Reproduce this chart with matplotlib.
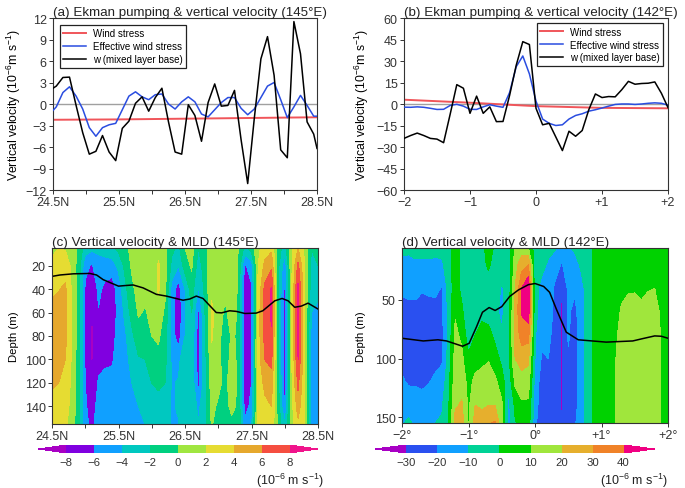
import matplotlib
matplotlib.use("Agg")
import matplotlib.pyplot as plt
import numpy as np

plt.rcParams.update({
    "font.family": ["Liberation Sans", "DejaVu Sans"],
    "font.size": 8.5,
    "mathtext.default": "regular",
    "axes.linewidth": 0.8,
    "axes.edgecolor": "#333333",
    "xtick.color": "#333333",
    "ytick.color": "#333333",
})

# line panel (a): latitudes sit mid-cell, with both ends added
lat_a = [24.5, 24.55, 24.65, 24.75, 24.85, 24.95, 25.05, 25.15, 25.25, 25.35, 25.45, 25.55, 25.65, 25.75,
         25.85, 25.95, 26.05, 26.15, 26.25, 26.35, 26.45, 26.55, 26.65, 26.75, 26.85, 26.95, 27.05, 27.15,
         27.25, 27.35, 27.45, 27.55, 27.65, 27.75, 27.85, 27.95, 28.05, 28.15, 28.25, 28.35, 28.45, 28.5]
w_a = [2.2, 2.5, 3.7, 3.75, -0.2, -4.0, -7, -6.6, -4.4, -6.7, -7.9, -3.4, -2.4, 0.1, 1, -1, 0.9, 2.2, -2.5, -6.7,
       -7, -0.1, -1.6, -5.2, 0.2, 2.8, -0.3, -0.2, 1.9, -5, -11.1, -2, 6.3, 9.4, 4, -6.4, -7.5, 11.5, 7, -2.5,
       -4.2, -6.2]
eff_a = [-0.9, -0.4, 1.6, 2.4, 1.1, -0.7, -3.3, -4.5, -3.3, -2.9, -2.7, -0.8, 1.1, 1.7, 1, 0.6, 1.3, 1.4, 0, -0.7,
         0.3, 1, 0.3, -1.4, -1.8, -0.8, 0.2, 0.9, 0.9, -0.6, -1.5, -0.7, 0.9, 2.5, 3, 0.6, -1.9, -0.4, 1.2, -0.2,
         -1.7, -1.7]
wind_lat_a = [24.5, 25.5, 26.5, 27.5, 28.5]
wind_a = [-2.2, -2.15, -2.05, -1.95, -1.85]

# line panel (b)
dist_b = np.arange(41) * 0.1 - 2
w_b = [-24, -22, -20.3, -22, -24, -24.5, -27, -7, 13.5, 11, -6.5, 5.5, -6.5, -2, -12.3, -12.2, 6, 27, 43.5, 41.5,
       -3, -14.5, -13.5, -23, -32.5, -19, -22.5, -18.5, -4, 7, 4.5, 5.2, 5, 10, 15.8, 13.8, 14.3, 14.5, 15.4, 7.5,
       -2.5]
eff_b = [-2.2, -2.3, -2, -2.3, -3, -3.8, -3.7, -1, -0.2, -1.5, -3.7, -3.8, -2, -0.5, -1.5, -2.3, 8, 26, 33.5, 21,
         2, -10.5, -13.5, -15, -14.5, -10.5, -8, -6.8, -5, -4, -2.8, -1.5, -0.3, 0, 0, -0.3, 0, 0.5, 0.8, 0.5, -0.8]
wind_dist_b = [-2, -1, 0, 1, 2]
wind_b = [3, 0.9, -1.5, -2.7, -3]

# section grids, one row per column of the section, top to bottom
depths = [5, 20, 40, 60, 80, 100, 120, 140, 155]
lat_c = np.arange(41) * 0.1 + 24.5
dist_d = np.arange(41) * 0.1 - 2

section_c = [
    [1.5, 2.5, 3.8, 4.3, 4.6, 4.5, 4.2, 3.5, 3],
    [2, 3.2, 3.9, 4.8, 5, 5, 4, 3, 2.8],
    [1.8, 3.2, 4.3, 4.6, 4.5, 4, 3.2, 2.6, 2.4],
    [1, 1.5, 1.7, 1.8, 1.8, 1.7, 1.6, 1.5, 1],
    [-0.5, -1, -1, -1, -1, -1.2, -1.3, -1.4, -1.5],
    [-3, -5.5, -6.3, -6.4, -6.4, -6.3, -6, -5.7, -5.5],
    [-3.5, -6.2, -7.5, -8, -8.5, -8.3, -7.5, -7, -6.5],
    [-3.5, -4.8, -5.6, -6.1, -6.8, -6.5, -5.8, -5.2, -5],
    [-3, -5, -6.5, -6.8, -6.8, -6.3, -5.5, -5, -4.8],
    [-2.5, -5, -7, -7, -7, -6.3, -5.3, -4.8, -4.8],
    [-1.5, -3.5, -5.2, -5.5, -5, -5, -4.8, -4.5, -4.5],
    [-0.5, -1.5, -2.5, -3.5, -4.3, -4.5, -4.4, -4.4, -4.4],
    [0.5, 0.3, -0.5, -1.2, -2.5, -3.5, -4, -4.2, -4.3],
    [1.2, 1.3, 0.8, 0.2, -0.8, -2.2, -3.2, -4, -4.2],
    [1, 1, 0.5, -0.2, -1, -2, -2.8, -3.5, -4],
    [0.5, 0.5, 0.6, 0.6, 0, -1.2, -2, -2.6, -3],
    [1.5, 2.2, 2.2, 1.5, 0.3, -0.5, -1.8, -2.4, -2.8],
    [0.5, 0.8, 0.5, -0.5, -1, -1.5, -2, -2.8, -3.2],
    [-1.5, -2.5, -4.8, -5, -5, -4.3, -4.2, -4.2, -4.2],
    [-2.5, -4, -7, -7.5, -7, -4.8, -3.8, -3.8, -4.1],
    [0, -1, -4, -4.2, -4, -2, -2, -2.5, -3],
    [0.8, 0.3, -1, -2, -2.5, -2.6, -2.6, -2.6, -2.6],
    [-2, -3, -4.2, -6.6, -7, -7, -6.7, -4.5, -4],
    [-1, -1, -1.5, -2, -2.5, -2.7, -2.8, -2.5, -2.5],
    [1.5, 1.6, 1.8, 2.2, 2.2, 1.5, 1, 0.5, 0.2],
    [1.5, 1.5, 1.5, 1.5, 1, 0.6, 0.5, -0.3, -1],
    [1.2, 1.2, 0.5, -0.5, -1.5, -1, -0.5, -0.8, -1.2],
    [1.5, 2, 1.5, 1, 0.3, 0.6, 0.8, 0.5, -0.5],
    [0, -0.2, -0.3, -0.3, -0.3, -0.3, -0.3, -0.3, -0.3],
    [-2.5, -6.3, -8, -8, -7.5, -7.5, -7.2, -6.8, -5.5],
    [-1, -5, -6.3, -6.4, -6.3, -6.2, -6, -5.5, -4.2],
    [1.5, 2, 2.5, 3, 3, 3, 2.8, 2.5, 2.2],
    [3, 4.5, 6.5, 6.8, 6.6, 6, 4.5, 3.5, 3],
    [3.5, 5.5, 8.2, 8.3, 7.8, 6.6, 5, 4, 3.5],
    [-1, -1.5, -2, -2, -2, -2, -1.5, -1, -0.5],
    [-3, -5.5, -6.5, -7, -7, -7, -7, -6.3, -4],
    [1.5, 1.5, 1.5, 1.5, 1.5, 1.5, 1.5, 1.2, 1],
    [4, 6.5, 8.5, 8.8, 8.5, 8, 6.5, 5, 3.5],
    [1.5, 2, 2, 2, 2, 2, 2, 2, 2],
    [-2, -2.5, -3, -4, -4.5, -4.5, -4.5, -4.5, -4.5],
    [-1.5, -2, -3.5, -4.5, -5, -5, -5, -5, -5],
]

section_d = [
    [-8, -12, -19, -22, -23, -22, -19, -14, -11],
    [-7, -14, -18, -22, -24, -23, -21, -15, -8],
    [-6, -12, -18, -22, -24, -24, -21, -16, -12],
    [-6, -12, -19, -24, -25, -24, -22, -16, -13],
    [-6, -12, -19, -22, -25, -25, -20.5, -15, -13],
    [-6, -13, -18, -23, -24, -23, -18, -14, -10],
    [-6, -12, -20.5, -22, -23, -21.5, -16, -11, -9],
    [-3, -4, -6, -7, -7, -6, -3, -1, 0.5],
    [5, 5, 5, 9, 12, 14, 16, 19, 23],
    [-2, -3, -3, 2, 8, 12, 17, 21, 24],
    [-3, -5, -8, -9, -6, 2, 6, 8, 9],
    [-3, -4, -5, -5, 0, 5, 13, 20, 24],
    [-2, -2, -3, -3, 4, 8, 13, 19, 23],
    [3, 1, -3, -5, 4, 9, 16, 20, 29],
    [-1, -3, -5, -8, -3, 5, 12, 20, 31],
    [-3, -5, -11, -12, -9, -3, 5, 12, 12],
    [-5, -8, -7, -4, -3, -3, -8, -13, -16],
    [11, 16, 20, 22, 22, 20, 12, 2, -1],
    [14, 26, 40, 41, 35, 24, 16, 8, 4],
    [10, 30, 50, 46, 34, 22, 15, 8, 5],
    [-5, -6, -8, -8, -9, -10, -14, -16, -17],
    [-5, -8, -12, -13, -18, -21, -24, -25, -29],
    [-8, -11, -14, -14, -18, -20, -22, -23, -24],
    [-9, -15, -22, -23, -23, -23, -23, -23, -23],
    [-13, -21, -29, -32, -32, -32, -31, -31, -30],
    [-11, -15, -18, -19, -19, -21, -24, -24, -24],
    [-8, -14, -19, -22, -24, -24, -24, -23, -21],
    [-4, -8, -13, -15, -15, -15, -15, -15, -14],
    [-2, -4, -5, -5, -5, -5, -4.5, -4, -4],
    [1, 2, 2, 2, 2, 2, 2, 2, 2],
    [3, 4, 4, 4, 4, 4, 4, 4, 4],
    [5, 5, 5, 5, 6, 6, 6, 6, 6],
    [5, 5, 5, 6, 8, 9, 9.5, 9.5, 9.5],
    [6, 7, 8, 11, 13, 15, 16, 16, 15],
    [7, 8, 9, 13, 14, 15, 16, 16, 15],
    [7, 8, 9.5, 12, 15, 15, 16, 16, 15],
    [6, 8, 9, 11, 14, 15, 16, 16, 15],
    [6, 8, 9.5, 13, 15, 15, 16, 16, 15],
    [6, 8, 10, 14, 16, 16, 16, 16, 15],
    [5, 5, 6, 8, 9, 9.5, 9.5, 9.5, 9],
    [4, 4, 4, 4, 4, 4, 4, 4, 4],
]

mld_lat_c = [24.52, 24.62, 24.82, 25.07, 25.17, 25.27, 25.5, 25.6, 25.72, 25.87, 26.07, 26.22, 26.47, 26.57, 26.67,
             26.77, 26.97, 27.05, 27.17, 27.27, 27.4, 27.57, 27.67, 27.85, 27.96, 28.05, 28.15, 28.25, 28.35, 28.5]
mld_c = [29, 28, 27, 26.7, 28, 32, 37.5, 37, 36.5, 39, 44.5, 46, 49.5, 48.5, 46, 48, 60, 60.3, 58.5, 59, 60.8, 60.5,
         58.5, 50, 48, 50, 55.5, 54.5, 52, 57]
mld_dist_d = [-2, -1.68, -1.46, -1.33, -1.09, -0.99, -0.88, -0.79, -0.69, -0.6, -0.5, -0.38, -0.25, -0.1, 0, 0.13,
              0.22, 0.32, 0.47, 0.65, 1.07, 1.47, 1.62, 1.8, 1.9, 2]
mld_d = [82.7, 85, 84, 85, 89.5, 87, 73, 60.5, 56.5, 59, 55.7, 47, 41.5, 37, 36, 38.5, 43.5, 57.7, 77.5, 84, 86, 85,
         83, 80.7, 81, 82.7]

levels_c = [-8, -6, -4, -2, 0, 2, 4, 6, 8]
colors_c = ["#a800c4", "#8000e0", "#10a0ff", "#00c8c0", "#00d080", "#a0e640", "#e6dc32", "#e6a82d", "#f54e40",
            "#f0148c"]
levels_d = [-30, -20, -10, 0, 10, 20, 30, 40]
colors_d = ["#a800c4", "#2a50f0", "#10a0ff", "#00d296", "#00d200", "#a0e63c", "#e6af2d", "#f08228", "#f00082"]

W, H = 685.0, 489.0


def axes_px(fig, left, top, right, bottom):
    return fig.add_axes([left / W, 1 - bottom / H, (right - left) / W, (bottom - top) / H])


def line_panel(ax, title, xs, w, eff, wx, wind, ylim, yticks, ylab_x):
    ax.axhline(0, color="#a0a0a0", lw=1.0, zorder=1)
    ax.plot(wx, wind, color="#f0555a", lw=1.4, label="Wind stress", zorder=2)
    ax.plot(xs, eff, color="#2a4de0", lw=1.1, label="Effective wind stress", zorder=3)
    ax.plot(xs, w, color="black", lw=1.1, label="w (mixed layer base)", zorder=4)
    ax.set_ylim(*ylim)
    ax.set_yticks(yticks)
    ax.set_yticklabels([str(v).replace("-", "\u2212") for v in yticks], fontsize=9)
    ax.set_ylabel("Vertical velocity ($10^{-6}$m s$^{-1}$)", fontsize=8.8, labelpad=2)
    ax.yaxis.set_label_coords(ylab_x, 0.5)
    ax.set_title(title, fontsize=9.65, pad=2.5, loc="left", color="#222222")
    ax.tick_params(length=3, width=0.7, pad=1.5)


def small_legend(ax, loc, anchor):
    leg = ax.legend(loc=loc, bbox_to_anchor=anchor, fontsize=7.05, frameon=True, framealpha=1, fancybox=False,
                    edgecolor="#222222", borderaxespad=0, handlelength=2.35, labelspacing=0.3, borderpad=0.35,
                    handletextpad=0.7)
    leg.get_frame().set_linewidth(0.9)


fig = plt.figure(figsize=(6.85, 4.89), dpi=100)

# (a)
ax = axes_px(fig, 53, 19, 317, 191)
line_panel(ax, "(a) Ekman pumping & vertical velocity (145\u00b0E)", lat_a, w_a, eff_a, wind_lat_a, wind_a,
           (-12, 12), [-12, -9, -6, -3, 0, 3, 6, 9, 12], -0.115)
ax.set_xlim(24.5, 28.5)
ax.set_xticks(np.arange(24.5, 28.6, 0.5))
ax.set_xticklabels(["24.5N", "", "25.5N", "", "26.5N", "", "27.5N", "", "28.5N"], fontsize=9)
small_legend(ax, "upper left", (0.0265, 0.96))

# (b)
ax = axes_px(fig, 404, 19, 668, 191)
line_panel(ax, "(b) Ekman pumping & vertical velocity (142\u00b0E)", dist_b, w_b, eff_b, wind_dist_b, wind_b,
           (-60, 60), [-60, -45, -30, -15, 0, 15, 30, 45, 60], -0.125)
ax.set_xlim(-2, 2)
ax.set_xticks([-2, -1, 0, 1, 2])
ax.set_xticklabels(["\u22122", "\u22121", "0", "+1", "+2"], fontsize=9)
small_legend(ax, "upper right", (0.981, 0.97))

# (c)
ax = axes_px(fig, 52, 249, 318, 425)
cs_c = ax.contourf(lat_c, depths, np.array(section_c).T, levels=levels_c, colors=colors_c, extend="both")
ax.plot(mld_lat_c, mld_c, color="black", lw=1.1)
ax.set_xlim(24.5, 28.5)
ax.set_ylim(155, 5)
ax.set_yticks([20, 40, 60, 80, 100, 120, 140])
ax.set_xticks(np.arange(24.5, 28.6, 0.5))
ax.set_xticklabels(["24.5N", "", "25.5N", "", "26.5N", "", "27.5N", "", "28.5N"], fontsize=9)
ax.tick_params(labelsize=9, length=3, width=0.7, pad=1.5)
ax.set_ylabel("Depth (m)", fontsize=8.2)
ax.yaxis.set_label_coords(-0.125, 0.5)
ax.set_title("(c) Vertical velocity & MLD (145\u00b0E)", fontsize=9.65, pad=2.5, loc="left", color="#222222")

cax = axes_px(fig, 38, 446, 318, 454)
cb = fig.colorbar(cs_c, cax=cax, orientation="horizontal", extendfrac=0.126, drawedges=False)
cb.set_ticks(levels_c)
cb.set_ticklabels(["\u22128", "\u22126", "\u22124", "\u22122", "0", "2", "4", "6", "8"], fontsize=8.2)
cb.ax.tick_params(length=0, pad=3)
cb.outline.set_visible(False)
fig.text(324 / W, 1 - 481 / H, "($10^{-6}$ m s$^{-1}$)", ha="right", va="center", fontsize=9, color="#222222")

# (d)
ax = axes_px(fig, 402, 249, 668, 424)
cs_d = ax.contourf(dist_d, depths, np.array(section_d).T, levels=levels_d, colors=colors_d, extend="both")
ax.plot(mld_dist_d, mld_d, color="black", lw=1.1)
ax.set_xlim(-2, 2)
ax.set_ylim(155, 5.7)
ax.set_yticks([50, 100, 150])
ax.set_xticks([-2, -1, 0, 1, 2])
ax.set_xticklabels(["\u22122\u00b0", "\u22121\u00b0", "0\u00b0", "+1\u00b0", "+2\u00b0"], fontsize=9)
ax.tick_params(labelsize=9, length=3, width=0.7, pad=1.5)
ax.set_ylabel("Depth (m)", fontsize=8.2)
ax.yaxis.set_label_coords(-0.135, 0.5)
ax.set_title("(d) Vertical velocity & MLD (142\u00b0E)", fontsize=9.65, pad=2.5, loc="left", color="#222222")

cax = axes_px(fig, 375, 446, 655, 454)
cb = fig.colorbar(cs_d, cax=cax, orientation="horizontal", extendfrac=0.145, drawedges=False)
cb.set_ticks(levels_d)
cb.set_ticklabels(["\u221230", "\u221220", "\u221210", "0", "10", "20", "30", "40"], fontsize=8.2)
cb.ax.tick_params(length=0, pad=3)
cb.outline.set_visible(False)
fig.text(668 / W, 1 - 481 / H, "($10^{-6}$ m s$^{-1}$)", ha="right", va="center", fontsize=9, color="#222222")

fig.savefig("out.png", dpi=100)
